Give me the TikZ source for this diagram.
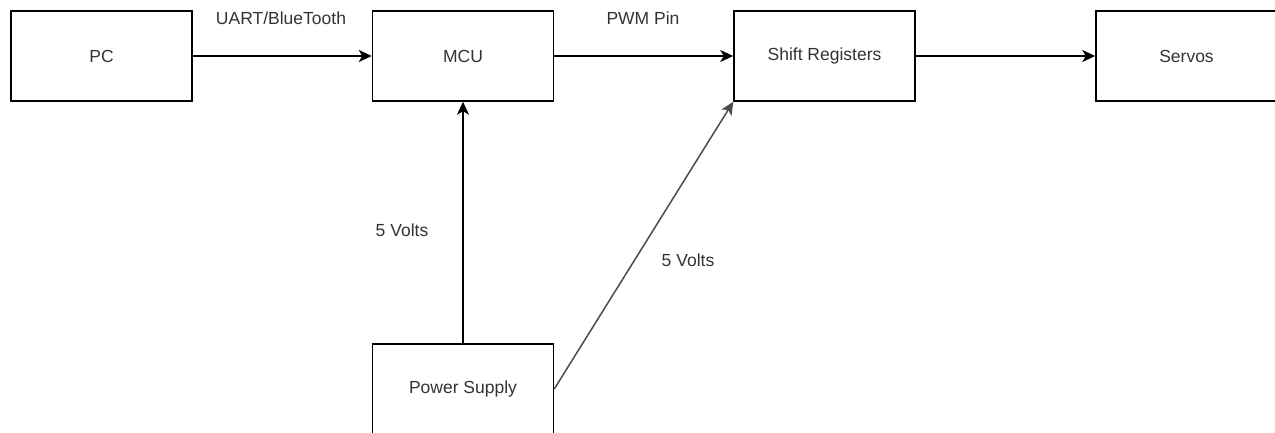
\documentclass[tikz,border=0pt]{standalone}
\usepackage{fontspec}
\setmainfont{Liberation Sans}
\usetikzlibrary{arrows.meta}
\definecolor{txt}{HTML}{333333}
\tikzset{
  blk/.style={draw=black, line width=1.5pt, minimum width=181pt, minimum height=90pt, inner sep=0pt, text=txt, font=\fontsize{17.5}{20}\selectfont},
  lbl/.style={text=txt, font=\fontsize{17.5}{20}\selectfont, inner sep=0pt},
  conn/.style={line width=1.5pt, -{Stealth[length=13pt,width=12pt,inset=3.5pt]}}
}
\begin{document}
\begin{tikzpicture}[x=1pt,y=-1pt]
\useasboundingbox (0,0) rectangle (1275,432);
\node[blk] (pc) at (101.5,56) {PC};
\node[blk] (mcu) at (463,56) {MCU};
\node[blk] (sr) at (824.5,56) {Shift Registers};
\node[blk] (servo) at (1186.5,56) {Servos};
\node[blk] (ps) at (463,389) {Power Supply};
\draw[conn] (pc) -- (mcu);
\draw[conn] (mcu) -- (sr);
\draw[conn] (sr) -- (servo);
\draw[conn] (ps) -- (mcu);
\draw[conn, draw=black!70, fill=black!70] (ps.east) -- (sr.south west);
\node[lbl] (l1) at (281,18) {UART/BlueTooth};
\node[lbl] (l2) at (643,18) {PWM Pin};
\node[lbl] (l3) at (402,230) {5 Volts};
\node[lbl] (l4) at (688,260) {5 Volts};
\end{tikzpicture}
\end{document}
